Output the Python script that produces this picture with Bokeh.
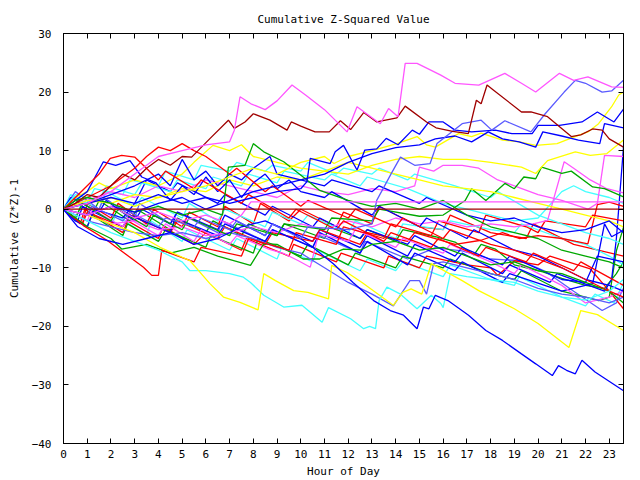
from bokeh.plotting import figure
from bokeh.models import LinearAxis, FixedTicker, Range1d
from bokeh.embed import file_html
from bokeh.resources import INLINE

# ---- tick values ----
hour_ticks = list(range(0, 24))
value_ticks = list(range(-40, 31, 10))

# ---- colours ----
RED = "#ff0000"
GREEN = "#00a800"
BLUE = "#0000ff"
MAGENTA = "#ff55ff"
CYAN = "#44ffff"
YELLOW = "#ffff00"
LBLUE = "#5a5aff"
DRED = "#a00000"

# ---- series: (hour, cumulative value) pairs ----
mag_top = [(0,0),(1,1),(2,3),(3,6),(4,9),(5,10),(6,11),(7,11.5),(7.2,13.5),(7.44,19.2),(7.9,18),(8.5,17),(9,18.5),(9.63,21.2),(10.2,19.5),(11,17),(11.95,13.2),(12.37,17.5),(13.35,14.6),(13.7,17.2),(14.1,15.8),(14.4,24.9),(14.9,24.9),(15.2,24.3),(15.9,22.9),(16.5,21.5),(17.5,21.2),(18.6,23.2),(19.3,21.5),(19.9,20.0),(20.9,23.2),(21.5,22),(22.1,22.6),(23.1,20.9),(23.6,20.8)]
dred_top = [(0,0),(0.5,1),(1,2.5),(1.5,2),(2,4),(2.5,6),(3,5),(3.5,7),(4,8.5),(4.5,7.5),(5,9),(5.4,8.9),(6.18,12.1),(6.95,15.2),(7.2,13.8),(7.65,14.9),(8.0,16.3),(8.7,15.2),(9.42,13.5),(9.6,14.9),(10.0,14.2),(10.6,13.2),(11.2,13.2),(11.67,15.1),(12.1,13.6),(12.65,16.5),(13.2,14.9),(14.05,15.6),(14.4,17.6),(15.3,14.9),(15.7,13.9),(16.4,13.3),(17.06,12.9),(17.4,18.6),(17.6,18.0),(17.85,21.2),(18.1,20.4),(19.3,16.6),(19.7,16.6),(20.4,15.8),(21.4,12.4),(21.8,12.7),(22.3,13.7),(22.7,13.5),(23.0,12.0),(23.6,10.6)]
red_up = [(0,0),(0.5,2),(1,4),(1.5,6),(1.97,8.7),(2.45,9.2),(3.0,8.9),(3.44,7.2),(4.0,5.0),(4.3,6.5),(5.5,3.5),(5.8,5),(7.5,1),(7.8,2.5),(9.5,-1.5),(9.8,0),(11.5,-3.5),(11.8,-2),(13.5,-5.5),(13.8,-4),(15.5,-6.5),(15.8,-5),(17.5,-8),(17.8,-6.5),(19.5,-9),(19.8,-7.5),(21.5,-10.5),(21.8,-9),(23.6,-13)]
red_mid = [(0,0),(1,2),(2,4),(3,7),(3.5,9),(4,10.6),(4.5,10),(5,11.2),(5.5,10),(6,9),(6.5,7.5),(7,6),(7.3,7),(8.5,3),(8.8,4),(10,0.5),(10.3,1.5),(12,-1.5),(12.3,0),(14,-3),(14.3,-1.5),(16,-5),(16.3,-3.5),(18,-6),(19,-7),(20,-8.5),(21,-10),(22,-12),(23,-14),(23.6,-15)]
lblue_hi = [(0,0),(1,-1),(1.2,0.5),(2.5,-2),(2.8,-0.5),(4,-3),(4.3,-1.5),(5.5,-3),(5.8,-1.5),(7,-3.5),(7.3,-2),(8.5,-4.5),(8.8,-2.5),(10,-5),(10.3,-3),(12,-3.5),(13.0,-2.5),(13.2,1.5),(13.8,6),(14.2,8.9),(14.8,7.5),(15.45,7.8),(15.74,11.2),(16.8,14.6),(17.6,15.2),(18.05,13.5),(18.6,15.1),(19.7,13.2),(20.3,16.3),(21.1,20.0),(21.57,22.0),(22.0,21.5),(22.7,20.0),(23.1,20.2),(23.6,22.0)]
blue_k = [(0,0),(1,1),(2,2),(3,1),(4,2.5),(5,1),(6,2),(7,1),(8,2),(9,3),(10,3.5),(10.26,4.7),(10.4,8.7),(11.24,7.8),(11.45,9.8),(11.8,10.9),(12.37,6.7),(12.7,10.1),(13.2,10.3),(13.6,12.1),(14.1,11),(14.7,13.5),(15.0,12.8),(15.4,14.9),(16.0,14.9),(16.5,13.5),(17.2,13.2),(18.2,13.5),(18.9,12.9),(19.75,12.9),(20.0,14.3),(20.9,14.3),(21.85,14.9),(22.5,16.6),(23.2,14.9),(23.6,17.1)]
blue_l = [(0,0),(1,-1),(2,0.5),(3,-0.5),(4,1),(5,2),(6,0),(7,1.5),(8,3),(9,4),(10,5),(11,6),(12,8),(13,9.5),(14,10.5),(15,11),(15.67,12),(16.5,12.5),(17.2,11.5),(17.9,13.2),(18.5,12),(19.2,11.5),(19.9,10.6),(20.2,13.2),(21,12.5),(21.7,11.8),(22.6,11.2),(22.8,14.6),(23.6,13.9)]
yellow_m = [(0,0),(1,1),(2,2),(3,0.5),(4,2),(5,3),(6,4),(7,5.5),(8,7),(9,6),(10,8),(11,9),(11.4,7.8),(12,9),(13,10),(14.05,11.2),(14.9,12.4),(15.3,11),(15.67,10.6),(16.65,12.9),(17.2,12.4),(17.6,13.0),(18.5,11.8),(19.2,11.5),(19.9,10.9),(20.8,11.2),(21.5,12.3),(22.1,13.2),(22.55,14.6),(23.1,17.5),(23.4,19.5),(23.6,20.0)]
yellow_lo = [(0,0),(1,1.5),(2,1),(3,2.5),(4,2),(5,3.5),(6,3),(7,5),(8,4),(9,5.5),(10,5),(11,6.5),(12,6),(13,7.5),(14,8.5),(15,9),(16,8.5),(17,8.5),(18,8),(19.3,7.2),(19.9,6.1),(20.4,8.3),(21.57,9.8),(22.2,9.2),(22.9,9.5),(23.6,11.8)]
yellow_up = [(0,0),(0.5,2),(1,3),(1.5,4.5),(2,3.5),(3,5),(4,4),(5,6),(5.5,8),(6.3,10.9),(7,10),(7.5,11),(8,9),(9,8),(10,7),(11,6.5),(12,8),(13,7),(14,6),(15,5),(16,4),(17,3.5),(18,3),(19,2),(20,1),(21,0),(22,-1),(23,-2),(23.6,-3)]
green_n = [(0,0),(0.5,1.5),(1,2),(2,1),(3,-0.5),(4,0.5),(5,-1),(6,0),(6.7,-1),(6.95,7.2),(7.65,7.5),(8.0,11.2),(8.44,9.8),(9.28,8.1),(10.1,5.5),(10.8,3.2),(12,1.5),(13,0.5),(14,1),(15,0),(16,1.5),(17,-1),(18,-3),(19,-4),(20,-5),(21,-7),(22,-8),(23,-9),(23.6,-10)]
green_r = [(0,0),(0.5,-1.5),(0.8,1),(2,-2),(2.3,0),(3.5,-3),(3.8,-1),(5,-3.5),(5.3,-1.5),(7,-4.5),(7.3,-2.5),(9,-4.5),(9.3,-2.5),(11,-3.5),(11.3,-1.5),(13,-2),(13.3,0),(15,-1.2),(16,-1),(16.93,1.5),(17.2,3.5),(17.8,1.5),(18.6,4.4),(19.0,3.5),(19.4,5.5),(19.9,5.2),(20.15,7.2),(21.0,6.1),(21.4,6.5),(22.3,3.8),(22.8,3.5),(23.6,2.1)]
mag_mid = [(0,0),(1,1.5),(2,3),(3,2),(4,4),(5,3),(6,5),(7,4),(8,3),(9,2),(10,4),(11,3),(12,2.5),(13,3.5),(14,3),(14.8,4),(15.0,7.2),(15.6,6.5),(16.0,7.5),(16.8,7.5),(17.5,7),(18.3,5),(19,4),(20,2.5),(21,1.5),(22.1,0),(22.5,1),(22.8,9.2),(23.6,9.0)]
mag_late = [(0,0),(1,-1),(2,-2.5),(3,-2),(4,-3.5),(5,-3),(6,-4.5),(7,-4),(8,-3),(9,-4),(10,-2.5),(11,-3.5),(12,-2),(13,-3),(14,-1.5),(15,-2.5),(16,-2),(17,-3),(18,-2.5),(19,-3),(19.8,-2.5),(20.4,-1.9),(21.1,8.1),(21.5,7),(22.2,5),(22.9,3.5),(23.6,2.8)]
cyan_1 = [(0,0),(0.5,2.5),(1.5,1.5),(1.8,4),(3,2.5),(3.3,4.5),(4.5,3),(4.8,5),(6,3.5),(6.3,5.5),(7.5,4),(7.8,6),(9,4.5),(9.3,6.5),(11,5),(11.3,6),(12.5,4),(12.8,5.5),(14.5,3.5),(16,1),(17,0),(18,-1),(19,-2),(20,-1.5),(21,3),(21.5,4),(22,3),(23,2),(23.6,1)]
cyan_2 = [(0,0),(0.4,2),(1,1),(1.3,3.5),(2.5,2.5),(2.8,5),(4,4),(4.3,6.5),(5.5,5),(5.8,7.5),(7,6.5),(7.3,8),(8.5,6.5),(8.8,7.5),(10,6.5),(10.3,8),(11.5,6),(11.8,7),(13,6),(13.3,7),(14.5,5),(14.8,6),(16.5,4),(18,2),(18.3,3),(20,-1),(21,-2.5),(22,-4),(23,-5),(23.6,-6)]
cyan_g = [(0,0),(1,-2),(2,-4),(3,-5.5),(4,-7),(5,-9),(5.33,-10.5),(6,-10.5),(7,-11),(7.58,-11.6),(7.88,-12.5),(8.44,-14.7),(9.28,-16.7),(10.05,-16.4),(10.9,-19.3),(11.17,-16.8),(12.1,-18.7),(12.65,-20.4),(12.9,-20),(13.15,-20.4),(13.3,-15.6),(13.63,-13.3),(14.2,-14.5),(14.9,-17.0),(15.5,-14.7),(15.9,-16.1),(16.0,-16.8),(16.3,-11),(17,-11.5),(18,-12),(19,-12.5),(20,-14),(21,-15),(22,-15.5),(23,-14),(23.6,-12)]
yellow_f = [(0,0),(1,-1),(2,-2.5),(3,-4),(4.07,-6.5),(5.33,-8.8),(6.17,-12.7),(6.74,-15),(7.44,-15.9),(8.2,-17.2),(8.44,-11),(8.93,-12.2),(9.7,-13.9),(10.3,-14.2),(11.17,-15.3),(11.3,-9.6),(11.95,-10.8),(12.58,-12.5),(13.9,-16.4),(14.3,-14.2),(14.65,-13.6),(15.1,-14.5),(15.5,-9.3),(16.8,-12.2),(17.5,-13.9),(19,-17),(20,-19.5),(21.3,-23.6),(21.8,-17.3),(22.5,-18),(23.6,-20.7)]
blue_d = [(0,0),(0.6,-3),(1.5,-5),(2.5,-6),(3.5,-5),(4.5,-4),(5.5,-6),(6.5,-5),(7.5,-3),(8.5,-2),(9.7,-4.2),(10.5,-6.5),(11.37,-9.3),(12.2,-12.5),(13.07,-15.6),(13.77,-17.3),(14.33,-18.1),(14.9,-20.4),(15.17,-16.7),(15.4,-17),(15.67,-14.7),(16.2,-15.6),(17.07,-18.1),(17.8,-20.7),(18.5,-22.4),(19.3,-24.7),(19.9,-26.4),(20.6,-28.4),(20.86,-26.7),(21.2,-27.5),(21.57,-28.1),(21.85,-25.8),(22.4,-27.8),(23.6,-31.0)]
red_e = [(0,0),(0.84,-2.8),(1.83,-5.3),(2.8,-8.2),(3.37,-9.9),(3.72,-11.3),(4.0,-11.3),(4.14,-7.0),(5.5,-9),(5.8,-6.5),(7.5,-8),(7.8,-5),(9.5,-7),(9.8,-4),(11.5,-6),(11.8,-3),(13.5,-5),(13.8,-2.5),(15.5,-4.5),(15.8,-2),(17.5,-4),(17.8,-1),(19.5,-3),(20,-4),(20.3,-2),(22,-3),(22.3,-1),(23.6,-2)]
lblue_h = [(0,0),(1,-2),(2,-3),(3,-4),(4,-4.5),(5,-4),(6,-5),(7,-4),(8,-5),(9,-6.5),(10,-7.5),(11,-10),(12,-12.5),(13,-14.5),(13.9,-16.5),(14.6,-12.2),(15.0,-12.2),(15.3,-14.5),(15.6,-9.3),(16,-9),(17,-10),(18,-11),(19,-12),(20,-13.5),(21,-14.5),(22,-15),(23,-16),(23.6,-15)]
green_i = [(0,0),(1,-3),(2,-5),(2.45,-6.8),(3.5,-6),(4.5,-7.5),(5.5,-6.5),(6.5,-8),(7.88,-9.6),(8.44,-5.9),(9,-6),(10.1,-8.5),(10.8,-8.5),(11.8,-6.8),(12.5,-7),(13,-6),(14,-5.5),(15,-7),(16,-6.5),(17,-8),(18,-9.5),(19,-9),(20,-10.5),(21,-11),(22,-12.5),(23,-14),(23.6,-16)]
mag_low = [(0,0),(1,-2),(1.2,0),(2.5,-3),(2.7,-1.5),(4,-4.5),(4.3,-2.5),(5.5,-5.5),(5.8,-3.5),(7,-6),(7.3,-4.5),(8.65,-6.8),(9.3,-7.6),(9.9,-8.8),(10.4,-9.9),(10.75,-4.2),(12,-5.5),(12.3,-3.5),(14,-6.5),(14.3,-5),(16,-7.5),(16.3,-6),(18,-9),(19,-11),(19.3,-9.5),(21,-13),(22,-16),(23,-15),(23.6,-14)]
blue_3 = [(0,0),(0.5,-2),(1,-3),(1.3,0),(2.5,-1.5),(3,1),(3.5,5),(4.5,3),(4.8,4.5),(6.5,1),(6.8,2.5),(8.5,-1),(8.8,0.5),(10.5,-3),(10.8,-1.5),(12.5,-5),(12.8,-3.5),(14.5,-6),(14.8,-4.5),(16.5,-8),(16.8,-6.5),(18.5,-9.5),(18.8,-8),(21,-12),(22,-12.5),(22.5,-8),(23.6,-9)]
blue_4 = [(0,0),(0.6,-2),(0.8,0.5),(2.5,-3),(2.8,-1),(4.5,-4),(4.7,-1.5),(6.5,-4.5),(6.8,-2.5),(8.5,-5.5),(8.8,-3.5),(10.5,-6.5),(10.8,-4),(12.5,-7.5),(12.8,-5.5),(14.5,-9.5),(14.8,-7.5),(16.5,-10.5),(16.8,-9),(18.5,-12.5),(18.8,-11),(21,-14),(22.3,-12.7),(22.8,-2.5),(23.1,-4.7),(23.6,-3.6)]
blue_5 = [(0,0),(0.3,2),(1.5,-0.5),(1.8,1.5),(3,-2),(3.3,0),(4.5,-2.5),(4.8,-0.5),(6.5,-3.5),(6.8,-1),(8.5,-4.5),(8.8,-2.5),(10.5,-5.5),(10.8,-3.5),(12.5,-6.5),(12.8,-4.5),(14.5,-8),(14.8,-6),(16.5,-9),(16.8,-7.5),(18.5,-11),(18.8,-9.5),(20.5,-12.5),(20.8,-11),(22.8,-14),(23.1,-12),(23.3,-5),(23.6,10.6)]
red_2 = [(0,0),(0.8,-2.5),(1,-0.5),(2.5,-3),(2.8,-1),(4.5,-4),(4.8,-2),(6.5,-5),(6.8,-3),(8.5,-6),(8.8,-4),(10.5,-5.5),(10.8,-3.5),(12.5,-6),(12.8,-4),(14.5,-5.5),(14.8,-4),(16.5,-6),(17.6,-5.3),(18.5,-4),(19.2,-5),(20,-4.5),(21,-5),(21.6,-5.5),(22.1,-5.9),(22.5,0.8),(23,1.2),(23.6,0.5)]
red_3 = [(0,0),(0.7,-2.5),(0.9,0),(2.5,-4),(2.7,-2),(4,-5),(4.2,-3),(5.5,-6),(6,-4),(7.5,-7),(7.7,-5),(9.5,-8),(9.7,-6),(11.5,-9),(11.7,-7.5),(13.5,-10),(13.7,-8),(15,-10),(15.3,-8),(17,-9.5),(18,-10),(18.3,-11.3),(19.0,-8.8),(20,-9.5),(20.5,-8),(22.2,-10.2),(22.8,-13),(23.6,-17)]
red_4 = [(0,0),(0.8,-2.5),(1,1),(2,-1.5),(2.3,1),(3.5,-2.5),(3.8,0),(5,-3),(5.3,-0.5),(6.5,-3),(6.8,0.5),(8,-2.5),(8.3,1),(9.5,-2),(10,0),(11.5,-3),(11.8,-0.5),(13,-2.5),(13.3,0.5),(15,-3),(16,-3.5),(16.3,-1),(18,-4),(19.5,-5),(19.8,-2.5),(21.5,-6),(23.6,-8)]
green_3 = [(0,0),(1,-3),(1.2,-1),(2.5,-4.5),(2.7,-2.5),(4,-5.5),(4.3,-3.5),(6,-6.5),(6.2,-4.5),(8,-7.5),(8.2,-5),(10,-8),(10.3,-6),(12,-9.5),(12.3,-7.5),(14,-10),(14.3,-8),(16,-10),(16.3,-8.5),(18,-11),(19,-12),(19.3,-10.5),(21,-14),(22,-15),(22.55,-15.6),(23.0,-15),(23.3,-7.1),(23.6,-3.1)]
green_4 = [(0,0),(0.4,2),(1.2,-1),(1.5,1.5),(2.8,-2),(3.1,0),(4.5,-3.5),(4.8,-1.5),(6,-4),(6.3,-2),(7.5,-4.5),(7.8,-2.5),(9,-4.5),(9.3,-2.5),(11,-5),(11.2,-3),(12.5,-5),(12.8,-3.5),(14,-5.5),(14.3,-3.5),(15.67,-4.7),(16.5,-5.6),(17.3,-7.8),(17.6,-6),(18.2,-6.8),(19,-9.5),(20.2,-10.7),(21,-11.8),(22,-13),(22.8,-13.5),(23.3,-11),(23.6,-9)]
cyan_3 = [(0,0),(0.5,-2),(0.7,0.5),(2,-3),(2.2,-1),(3.5,-4.5),(3.7,-2),(5,-5.5),(5.2,-3.5),(7,-7),(7.3,-5),(9,-8.5),(9.2,-6.5),(10.5,-9),(10.7,-7),(12.5,-10.5),(12.8,-8.5),(14,-10.5),(14.3,-9),(16,-11.5),(16.3,-9.5),(18,-12),(19,-13),(19.2,-11.5),(21,-15),(22,-16.5),(22.4,-14.5),(23.2,-16),(23.6,-12.5)]
cyan_4 = [(0,0),(0.3,2.5),(1.5,0),(1.8,3),(3,0.5),(3.3,2),(5,-1.5),(5.3,1),(6.5,-2),(6.8,0),(8.5,-3),(8.8,-0.5),(10,-2.5),(10.3,-1),(12,-4),(12.3,-2),(14,-5),(14.3,-2.5),(16,-3.5),(16.3,-2),(18,-3.5),(19,-4),(19.3,-2.5),(21,-5),(22,-6),(23,-8),(23.6,-9.5)]
lblue_2 = [(0,0),(0.5,3),(1.5,0),(1.7,2),(3,-1.5),(3.2,1),(4.5,-2.5),(4.8,-0.5),(6.5,-4),(6.7,-2),(8.5,-5.5),(8.8,-3.5),(10.5,-6.5),(10.8,-4.5),(12.5,-7.5),(12.7,-5.5),(14.5,-8.5),(15.67,-6.6),(16.8,-7.1),(18,-8.5),(19.3,-8.8),(20.3,-10.6),(21.5,-14),(22.7,-17.3),(23.3,-16),(23.6,-13.5)]
blue_z = [(0,0),(1,3),(1.68,8.1),(2.2,7.5),(2.8,8.3),(3.3,5.5),(3.9,4.5),(4.5,1.5),(5,4),(5.5,2.5),(6,5.5),(6.5,3),(7,5),(7.5,2),(8,4.5),(8.5,6),(9,3.5),(9.5,5),(10,3),(11,2),(11.3,3),(13,-1),(13.3,0.5),(15,-3),(15.3,-1.5),(17,-5),(17.3,-3.5),(19,-7),(20,-8),(21,-10),(22,-12),(23,-13),(23.6,-14)]
blue_2 = [(0,0),(1,1),(2,2.5),(3,4),(4,6),(4.5,4),(5,8.5),(5.5,5),(6,6.5),(6.5,4),(7,6),(7.5,5),(8,7),(8.7,9),(9,6),(10,5),(11,4),(11.3,5),(13,3),(13.3,4),(15,1),(15.3,2),(17,-1),(18,-2),(19,-1.5),(20,-3),(21,-4),(22,-3.5),(23,-2),(23.6,-4)]
mag_flat = [(0,0),(1,-1),(2,0.5),(3,-1.5),(4,-0.5),(5,-2),(6,-1),(7,-2.5),(7.5,-1),(7.9,1.26),(23.6,1.26)]
dred_zero = [(0,0),(23.6,0)]

series = [
    (cyan_3, CYAN), (green_4, GREEN), (red_4, RED), (cyan_4, CYAN), (lblue_2, LBLUE),
    (red_3, RED), (green_3, GREEN), (blue_5, BLUE), (red_2, RED), (blue_4, BLUE),
    (blue_3, BLUE), (mag_low, MAGENTA), (green_i, GREEN), (lblue_h, LBLUE), (red_e, RED),
    (cyan_2, CYAN), (cyan_1, CYAN), (mag_late, MAGENTA), (mag_mid, MAGENTA), (green_r, GREEN),
    (yellow_up, YELLOW), (yellow_lo, YELLOW), (blue_2, BLUE), (blue_z, BLUE), (red_mid, RED),
    (red_up, RED), (green_n, GREEN), (cyan_g, CYAN), (yellow_f, YELLOW), (blue_d, BLUE),
    (yellow_m, YELLOW), (blue_l, BLUE), (blue_k, BLUE), (lblue_hi, LBLUE), (dred_top, DRED),
    (mag_top, MAGENTA), (mag_flat, MAGENTA), (dred_zero, DRED),
]

FONT = "DejaVu Sans Mono"
FS = "11px"

p = figure(width=640, height=480, output_backend="svg", toolbar_location=None,
           x_range=Range1d(0, 23.6), y_range=Range1d(-40, 30),
           min_border_left=63, min_border_right=17, min_border_top=33, min_border_bottom=37,
           title="Cumulative Z-Squared Value")
p.background_fill_color = "white"
p.border_fill_color = "white"
p.outline_line_color = "black"
p.outline_line_width = 1
p.grid.visible = False

p.title.align = "center"
p.title.text_font = FONT
p.title.text_font_size = FS
p.title.text_font_style = "normal"
p.title.text_color = "black"
p.title.standoff = 16

for xs_ys, col in series:
    xs = [a for a, b in xs_ys]
    ys = [b for a, b in xs_ys]
    p.line(xs, ys, line_color=col, line_width=1.3)

def style_axis(ax, ticks, label_visible=True):
    ax.ticker = FixedTicker(ticks=ticks)
    ax.major_tick_in = 5
    ax.major_tick_out = 0
    ax.minor_tick_in = 0
    ax.minor_tick_out = 0
    ax.axis_line_color = "black"
    ax.major_tick_line_color = "black"
    ax.major_label_text_font = FONT
    ax.major_label_text_font_size = FS
    ax.major_label_text_color = "black"
    ax.axis_label_text_font = FONT
    ax.axis_label_text_font_size = FS
    ax.axis_label_text_font_style = "normal"
    ax.axis_label_text_color = "black"
    if not label_visible:
        ax.major_label_overrides = {t: "" for t in ticks}
        ax.major_label_standoff = 0

xa = p.xaxis[0]
style_axis(xa, hour_ticks)
xa.axis_label = "Hour of Day"
xa.major_label_standoff = 6
xa.axis_label_standoff = 4

ya = p.yaxis[0]
style_axis(ya, value_ticks)
ya.axis_label = "Cumulative (Z*Z)-1"
ya.major_label_standoff = 12
ya.axis_label_standoff = 8

top = LinearAxis()
style_axis(top, hour_ticks, label_visible=False)
p.add_layout(top, "above")
right = LinearAxis()
style_axis(right, value_ticks, label_visible=False)
p.add_layout(right, "right")

open("out.html", "w").write(file_html(p, INLINE))
